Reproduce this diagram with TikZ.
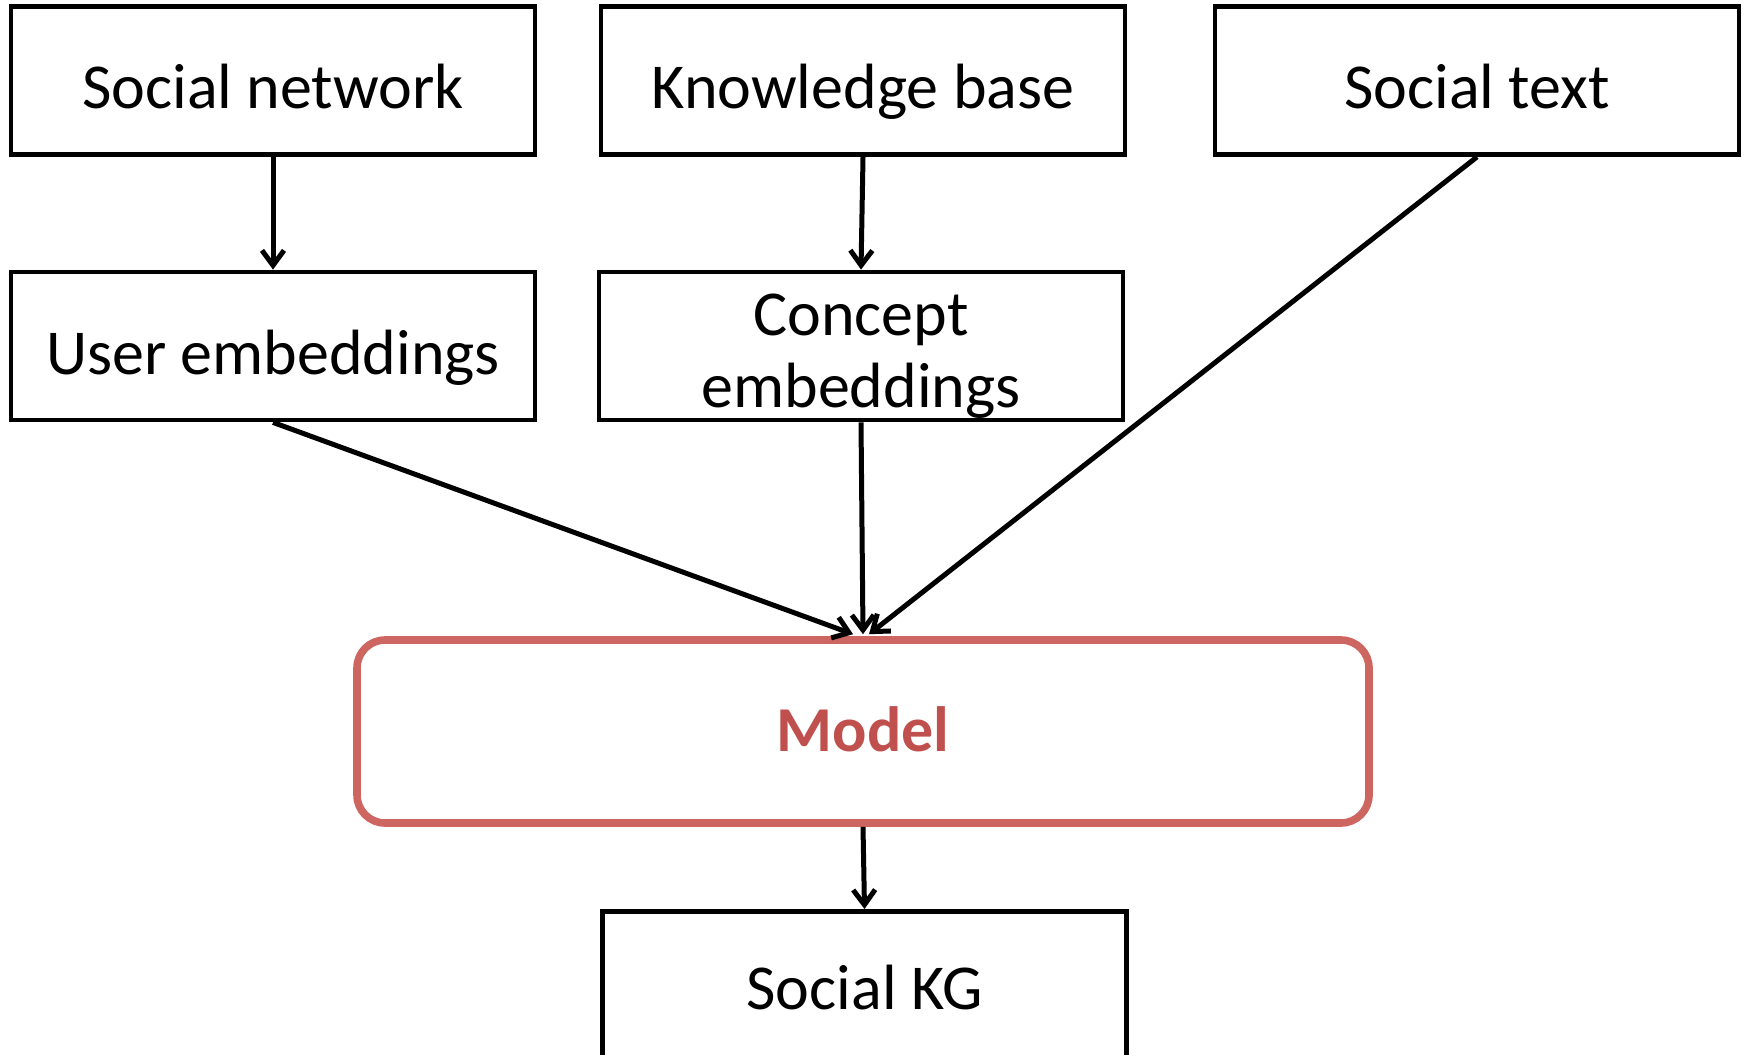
\documentclass[tikz,border=0pt]{standalone}
\usepackage{fontspec}
\setmainfont{Carlito}
\usetikzlibrary{arrows.meta}
\definecolor{modelred}{RGB}{205,102,96}
\definecolor{modeltext}{RGB}{192,80,77}
\begin{document}
\begin{tikzpicture}[x=0.5pt,y=-0.5pt,
  label font/.style={font=\fontsize{32}{36}\selectfont},
  box/.style={draw=black,line width=2.4pt,minimum width=262pt,minimum height=74pt,
    inner sep=0pt,label font,text height=32pt,text depth=4pt},
  modelbox/.style={draw=modelred,line width=3.8pt,rounded corners=14pt,
    minimum width=506pt,minimum height=91.5pt,inner sep=0pt,
    font=\fontsize{32}{36}\selectfont\bfseries,text=modeltext,
    text height=24pt,text depth=4pt},
  flow/.style={draw=black,line width=2.5pt,-{Straight Barb[length=7.5pt,width=11pt,line width=2.5pt]}}]
  \useasboundingbox (0,0) rectangle (1749,1054);
  \clip (0,0) rectangle (1749,1054);

  % sources
  \node[box] (sn) at (273,80.5) {Social network};
  \node[box] (kb) at (863,80.5) {Knowledge base};
  \node[box] (st) at (1477,80.5) {Social text};

  % embeddings
  \node[box] (ue) at (273,346) {User embeddings};
  \node[box] (ce) at (861,346) {};
  \node[label font,align=center,inner sep=0pt,anchor=base]
    (cet) at (861,407) {Concept\\embeddings};

  % model and output
  \node[modelbox] (model) at (863,731.5) {Model};
  \node[box,anchor=north,minimum height=90pt] (kg) at (864.5,909) {};
  \node[label font,inner sep=0pt,anchor=base] (kgt) at (864.5,1009) {Social KG};

  % connectors
  \draw[flow] (sn.south) -- (ue.north);
  \draw[flow] (kb.south) -- (ce.north);
  \draw[flow] (ue.south) -- ([xshift=-5pt,yshift=1pt]model.north);
  \draw[flow] (ce.south) -- ([yshift=1pt]model.north);
  \draw[flow] (st.south) -- ([xshift=3pt,yshift=1pt]model.north);
  \draw[flow] (model.south) -- (kg.north);
\end{tikzpicture}
\end{document}
